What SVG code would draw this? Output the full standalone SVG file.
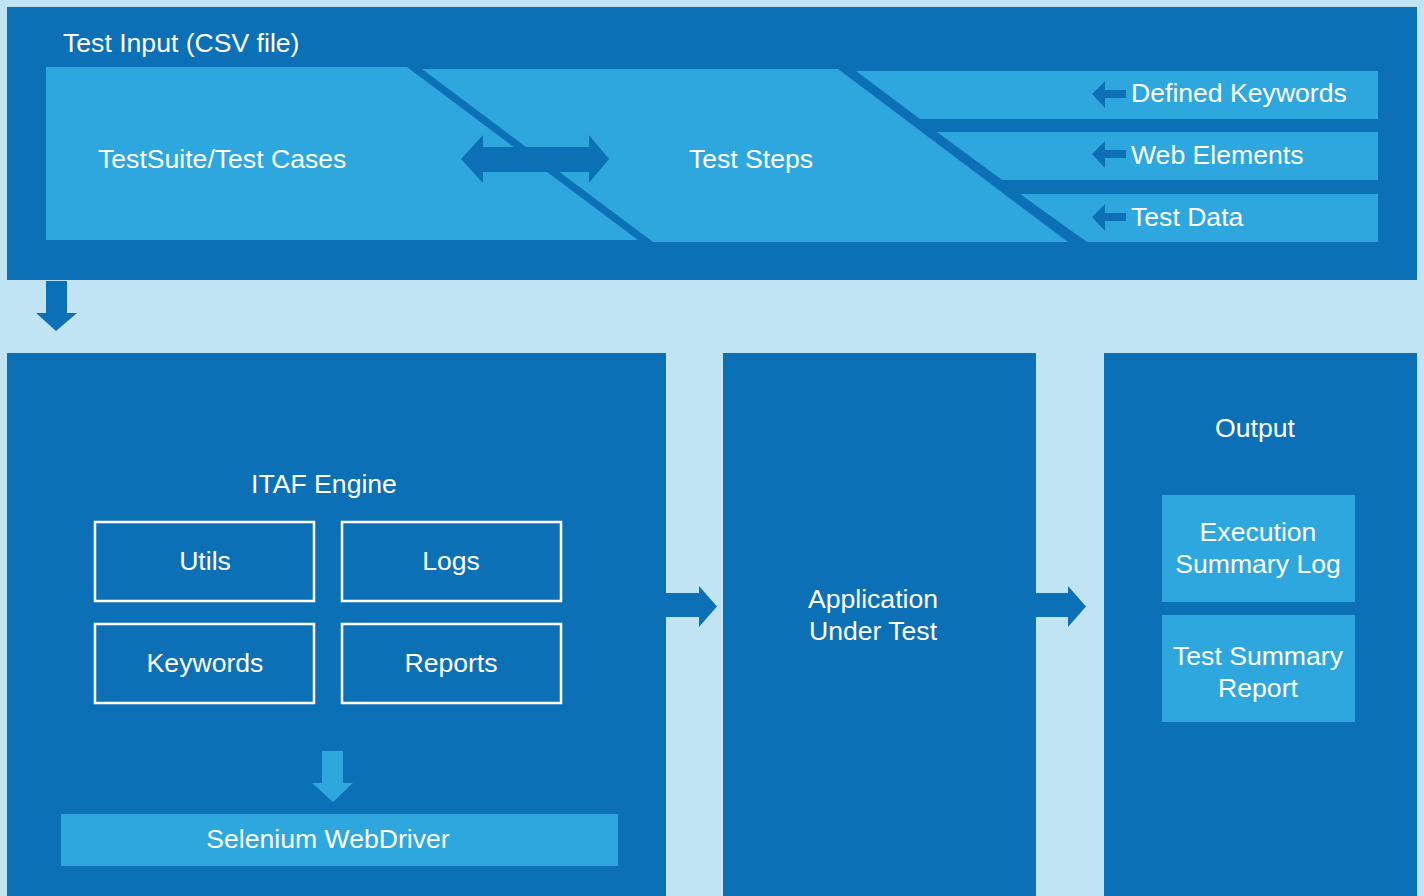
<svg xmlns="http://www.w3.org/2000/svg" width="1424" height="896" viewBox="0 0 1424 896">
  <style>
    .dark { fill: #0C70B7; }
    .light { fill: #2DA7DE; }
    .t { font-family: "Liberation Sans", Arial, sans-serif; font-size: 26.6px; fill: #FFFFFF; }
    .c { text-anchor: middle; }
    .box { fill: none; stroke: #FFFFFF; stroke-width: 2.5; }
  </style>
  <rect x="0" y="0" width="1424" height="896" fill="#C1E4F4"/>

  <g id="test-input">
    <rect class="dark" x="7" y="7" width="1410" height="273"/>
    <text class="t" x="63" y="52">Test Input (CSV file)</text>
  </g>

  <g id="testsuite">
    <polygon class="light" points="46,67 407,67 638,240 46,240"/>
    <text class="t" x="98" y="168">TestSuite/Test Cases</text>
  </g>

  <g id="test-steps">
    <polygon class="light" points="422,69 838,69 1068,242 653,242"/>
    <text class="t c" x="751" y="168">Test Steps</text>
  </g>

  <g id="defined-keywords">
    <polygon class="light" points="856,71 1378,71 1378,119 920,119"/>
    <text class="t" x="1131" y="102">Defined Keywords</text>
  </g>

  <g id="web-elements">
    <polygon class="light" points="937,132 1378,132 1378,180 1002,180"/>
    <text class="t" x="1131" y="164">Web Elements</text>
  </g>

  <g id="test-data">
    <polygon class="light" points="1020,194 1378,194 1378,242 1087,242"/>
    <text class="t" x="1131" y="226">Test Data</text>
  </g>

  <g id="itaf-engine">
    <rect class="dark" x="7" y="353" width="659" height="543"/>
    <text class="t c" x="324" y="493">ITAF Engine</text>
  </g>

  <g id="utils">
    <rect class="box" x="95" y="522" width="219" height="79"/>
    <text class="t c" x="205" y="570">Utils</text>
  </g>
  <g id="logs">
    <rect class="box" x="342" y="522" width="219" height="79"/>
    <text class="t c" x="451" y="570">Logs</text>
  </g>
  <g id="keywords">
    <rect class="box" x="95" y="624" width="219" height="79"/>
    <text class="t c" x="205" y="672">Keywords</text>
  </g>
  <g id="reports">
    <rect class="box" x="342" y="624" width="219" height="79"/>
    <text class="t c" x="451" y="672">Reports</text>
  </g>

  <g id="selenium-webdriver">
    <rect class="light" x="61" y="814" width="557" height="52"/>
    <text class="t c" x="328" y="848">Selenium WebDriver</text>
  </g>

  <g id="application-under-test">
    <rect class="dark" x="723" y="353" width="313" height="543"/>
    <text class="t c" x="873" y="608">Application</text>
    <text class="t c" x="873" y="640">Under Test</text>
  </g>

  <g id="output">
    <rect class="dark" x="1104" y="353" width="313" height="543"/>
    <text class="t c" x="1255" y="437">Output</text>
  </g>

  <g id="execution-summary-log">
    <rect class="light" x="1162" y="495" width="193" height="107"/>
    <text class="t c" x="1258" y="541">Execution</text>
    <text class="t c" x="1258" y="573">Summary Log</text>
  </g>

  <g id="test-summary-report">
    <rect class="light" x="1162" y="615" width="193" height="107"/>
    <text class="t c" x="1258" y="665">Test Summary</text>
    <text class="t c" x="1258" y="697">Report</text>
  </g>

  <g id="connectors">
    <polygon class="dark" points="461,159 483,135 483,147 589,147 589,135 609,159 589,183 589,172 483,172 483,183"/>
    <polygon class="dark" points="1092,94 1105,81 1105,90 1126,90 1126,98 1105,98 1105,108"/>
    <polygon class="dark" points="1092,154 1105,141 1105,150 1126,150 1126,158 1105,158 1105,168"/>
    <polygon class="dark" points="1092,217 1105,204 1105,213 1126,213 1126,221 1105,221 1105,231"/>
    <polygon class="dark" points="46,281 67,281 67,313 77,313 56,331 36,313 46,313"/>
    <polygon class="light" points="322,751 343,751 343,783 353,783 333,802 312,783 322,783"/>
    <polygon class="dark" points="666,593 699,593 699,586 717,606.5 699,627 699,617 666,617"/>
    <polygon class="dark" points="1036,593 1068,593 1068,586 1086,606.5 1068,627 1068,617 1036,617"/>
  </g>
</svg>
